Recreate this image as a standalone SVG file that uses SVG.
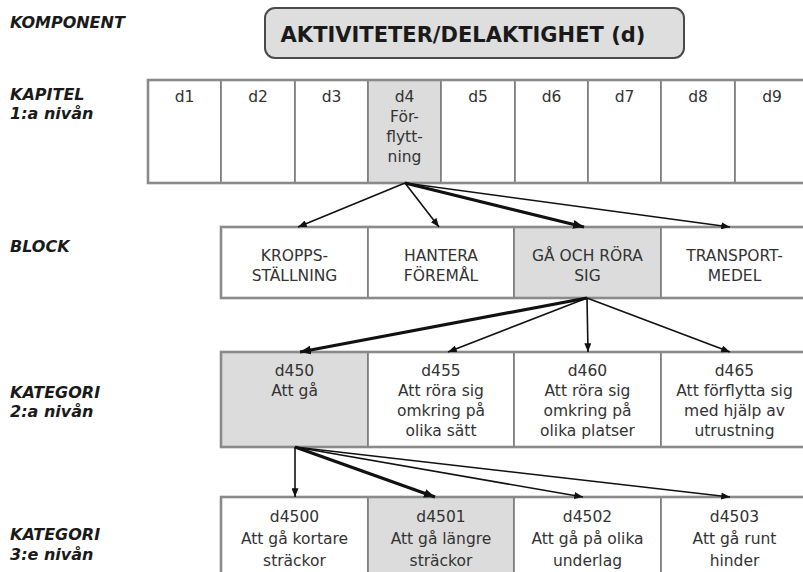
<svg xmlns="http://www.w3.org/2000/svg" width="803" height="572" viewBox="0 0 803 572">
<defs>
<marker id="ah" viewBox="0 0 10 8" refX="10" refY="4" markerWidth="9" markerHeight="7" markerUnits="userSpaceOnUse" orient="auto">
<path d="M0,0 L10,4 L0,8 z" fill="#111"/>
</marker>
<marker id="ahb" viewBox="0 0 10 8" refX="10" refY="4" markerWidth="11" markerHeight="9" markerUnits="userSpaceOnUse" orient="auto">
<path d="M0,0 L10,4 L0,8 z" fill="#111"/>
</marker>
</defs>
<style>
.lbl{font-family:"DejaVu Sans",Verdana,sans-serif;font-weight:bold;font-style:italic;font-size:16px;fill:#1a1a1a}
.t{font-family:"DejaVu Sans",Verdana,sans-serif;font-size:15.5px;fill:#333;text-anchor:middle}
.cell{fill:#fff;stroke:#7a7a7a;stroke-width:1.6}
.sh{fill:#dcdcdc}
.row{fill:none;stroke:#8a8a8a;stroke-width:2.6}
.a{stroke:#111;stroke-width:1.6;fill:none;marker-end:url(#ah)}
.ab{stroke:#111;stroke-width:3.2;fill:none;marker-end:url(#ahb)}
</style>
<rect width="803" height="572" fill="#fff"/>

<g id="labels">
<text class="lbl" x="10" y="28">KOMPONENT</text>
<text class="lbl" x="10" y="100">KAPITEL</text>
<text class="lbl" x="10" y="119">1:a nivån</text>
<text class="lbl" x="10" y="252">BLOCK</text>
<text class="lbl" x="10" y="398">KATEGORI</text>
<text class="lbl" x="10" y="417">2:a nivån</text>
<text class="lbl" x="10" y="540">KATEGORI</text>
<text class="lbl" x="10" y="560">3:e nivån</text>
</g>

<g id="komponent">
<rect x="265" y="8" width="419" height="50" rx="10" fill="#dedede" stroke="#4a4a4a" stroke-width="2"/>
<text x="463" y="42" font-family="'DejaVu Sans',Verdana,sans-serif" font-weight="bold" font-size="21" fill="#1a1a1a" text-anchor="middle">AKTIVITETER/DELAKTIGHET (d)</text>
</g>

<g id="kapitel">
<g id="d1"><rect class="cell" x="148" y="80" width="73" height="103"/><text class="t" x="184.5" y="102">d1</text></g>
<g id="d2"><rect class="cell" x="221" y="80" width="74" height="103"/><text class="t" x="258" y="102">d2</text></g>
<g id="d3"><rect class="cell" x="295" y="80" width="73" height="103"/><text class="t" x="331.5" y="102">d3</text></g>
<g id="d4"><rect class="cell sh" x="368" y="80" width="73" height="103"/><text class="t" x="404.5" y="102">d4</text><text class="t" x="404.5" y="122">För-</text><text class="t" x="404.5" y="142">flytt-</text><text class="t" x="404.5" y="162">ning</text></g>
<g id="d5"><rect class="cell" x="441" y="80" width="74" height="103"/><text class="t" x="478" y="102">d5</text></g>
<g id="d6"><rect class="cell" x="515" y="80" width="73" height="103"/><text class="t" x="551.5" y="102">d6</text></g>
<g id="d7"><rect class="cell" x="588" y="80" width="73" height="103"/><text class="t" x="624.5" y="102">d7</text></g>
<g id="d8"><rect class="cell" x="661" y="80" width="74" height="103"/><text class="t" x="698" y="102">d8</text></g>
<g id="d9"><rect class="cell" x="735" y="80" width="74" height="103"/><text class="t" x="772" y="102">d9</text></g>
<rect class="row" x="148" y="80" width="662" height="103"/>
</g>

<g id="block">
<g id="b1"><rect class="cell" x="221" y="227" width="147" height="71"/><text class="t" x="294.5" y="261">KROPPS-</text><text class="t" x="294.5" y="281">STÄLLNING</text></g>
<g id="b2"><rect class="cell" x="368" y="227" width="146" height="71"/><text class="t" x="441" y="261">HANTERA</text><text class="t" x="441" y="281">FÖREMÅL</text></g>
<g id="b3"><rect class="cell sh" x="514" y="227" width="147" height="71"/><text class="t" x="587.5" y="261">GÅ OCH RÖRA</text><text class="t" x="587.5" y="281">SIG</text></g>
<g id="b4"><rect class="cell" x="661" y="227" width="147" height="71"/><text class="t" x="734.5" y="261">TRANSPORT-</text><text class="t" x="734.5" y="281">MEDEL</text></g>
<rect class="row" x="221" y="227" width="589" height="71"/>
</g>

<g id="kategori2">
<g id="d450"><rect class="cell sh" x="221" y="352" width="147" height="95"/><text class="t" x="294.5" y="376">d450</text><text class="t" x="294.5" y="396">Att gå</text></g>
<g id="d455"><rect class="cell" x="368" y="352" width="146" height="95"/><text class="t" x="441" y="376">d455</text><text class="t" x="441" y="396">Att röra sig</text><text class="t" x="441" y="416">omkring på</text><text class="t" x="441" y="436">olika sätt</text></g>
<g id="d460"><rect class="cell" x="514" y="352" width="147" height="95"/><text class="t" x="587.5" y="376">d460</text><text class="t" x="587.5" y="396">Att röra sig</text><text class="t" x="587.5" y="416">omkring på</text><text class="t" x="587.5" y="436">olika platser</text></g>
<g id="d465"><rect class="cell" x="661" y="352" width="147" height="95"/><text class="t" x="734.5" y="376">d465</text><text class="t" x="734.5" y="396">Att förflytta sig</text><text class="t" x="734.5" y="416">med hjälp av</text><text class="t" x="734.5" y="436">utrustning</text></g>
<rect class="row" x="221" y="352" width="589" height="95"/>
</g>

<g id="kategori3">
<g id="d4500"><rect class="cell" x="221" y="497" width="147" height="80"/><text class="t" x="294.5" y="522">d4500</text><text class="t" x="294.5" y="544">Att gå kortare</text><text class="t" x="294.5" y="566">sträckor</text></g>
<g id="d4501"><rect class="cell sh" x="368" y="497" width="146" height="80"/><text class="t" x="441" y="522">d4501</text><text class="t" x="441" y="544">Att gå längre</text><text class="t" x="441" y="566">sträckor</text></g>
<g id="d4502"><rect class="cell" x="514" y="497" width="147" height="80"/><text class="t" x="587.5" y="522">d4502</text><text class="t" x="587.5" y="544">Att gå på olika</text><text class="t" x="587.5" y="566">underlag</text></g>
<g id="d4503"><rect class="cell" x="661" y="497" width="147" height="80"/><text class="t" x="734.5" y="522">d4503</text><text class="t" x="734.5" y="544">Att gå runt</text><text class="t" x="734.5" y="566">hinder</text></g>
<rect class="row" x="221" y="497" width="589" height="80"/>
</g>

<g id="connectors">
<line class="a" x1="405" y1="183" x2="298" y2="227"/>
<line class="a" x1="405" y1="183" x2="439" y2="227"/>
<line class="ab" x1="405" y1="183" x2="584" y2="227"/>
<line class="a" x1="405" y1="183" x2="730" y2="227"/>
<line class="ab" x1="587" y1="298" x2="300" y2="352"/>
<line class="a" x1="587" y1="298" x2="448" y2="352"/>
<line class="a" x1="587" y1="298" x2="588" y2="352"/>
<line class="a" x1="587" y1="298" x2="730" y2="352"/>
<line class="a" x1="295" y1="447" x2="295" y2="497"/>
<line class="ab" x1="295" y1="447" x2="435" y2="497"/>
<line class="a" x1="295" y1="447" x2="583" y2="497"/>
<line class="a" x1="295" y1="447" x2="730" y2="497"/>
</g>
</svg>
